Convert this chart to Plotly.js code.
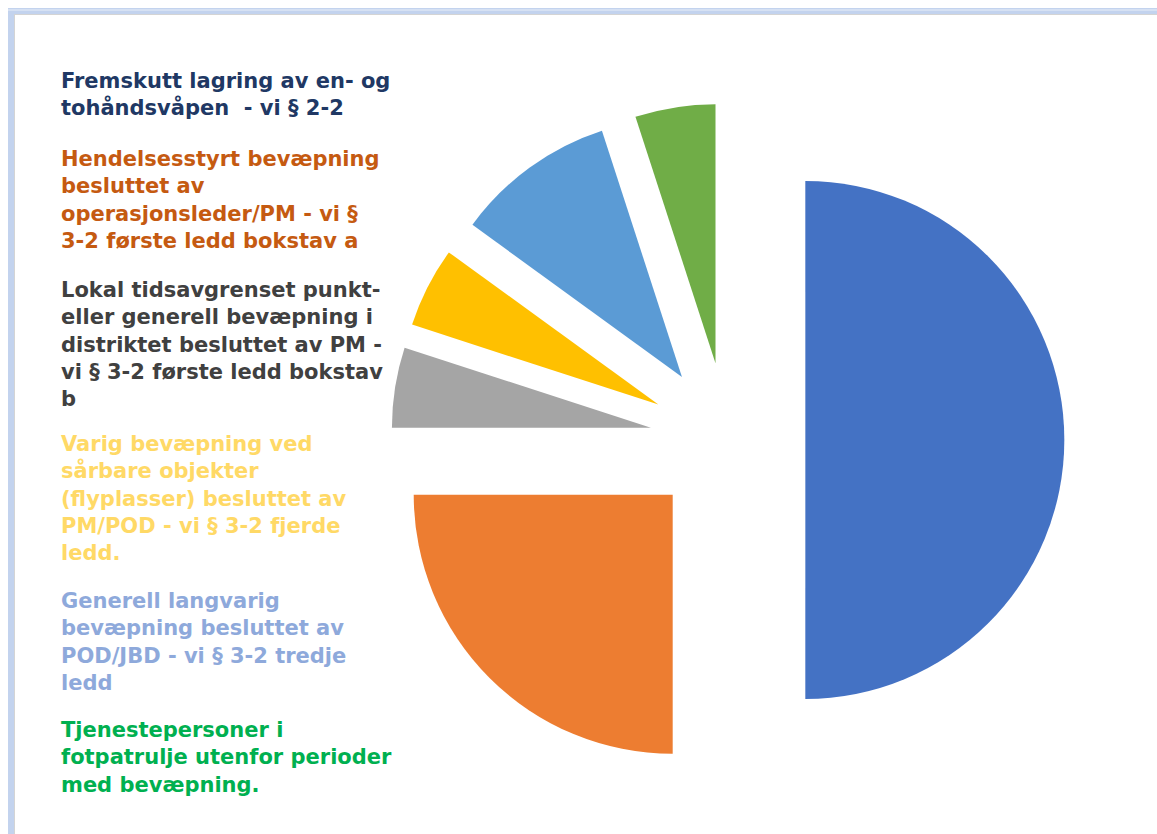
<!DOCTYPE html>
<html>
<head>
<meta charset="utf-8">
<script src="https://cdn.plot.ly/plotly-3.0.1.min.js"></script>
<style>
  html, body { margin: 0; padding: 0; background: #ffffff; }
  #chart { width: 1157px; height: 834px; }
</style>
</head>
<body>
<div id="chart"></div>
<script>
// ---- Data ----
const legendLines = [
  "Fremskutt lagring av en- og<br>tohåndsvåpen  - vi § 2-2",
  "Hendelsesstyrt bevæpning<br>besluttet av<br>operasjonsleder/PM - vi §<br>3-2 første ledd bokstav a",
  "Lokal tidsavgrenset punkt-<br>eller generell bevæpning i<br>distriktet besluttet av PM -<br>vi § 3-2 første ledd bokstav<br>b",
  "Varig bevæpning ved<br>sårbare objekter<br>(flyplasser) besluttet av<br>PM/POD - vi § 3-2 fjerde<br>ledd.",
  "Generell langvarig<br>bevæpning besluttet av<br>POD/JBD - vi § 3-2 tredje<br>ledd",
  "Tjenestepersoner i<br>fotpatrulje utenfor perioder<br>med bevæpning."
];
const labels = legendLines.map(s => s.replace(/<br>/g, " ").replace(/\s+/g, " "));
const values = [50, 25, 5, 5, 10, 5];

// ---- Styles ----
const sliceColors = ["#4472C4", "#ED7D31", "#A5A5A5", "#FFC000", "#5B9BD5", "#70AD47"];
const textColors  = ["#203864", "#C55A11", "#404040", "#FFD966", "#8EA9DB", "#00B050"];
const blockTopPx  = [82, 160, 291, 445, 602, 731];

const W = 1157, H = 834;
const fontSize = 21;

const annotations = legendLines.map((t, i) => ({
  xref: "paper", yref: "paper",
  x: 59 / W, y: 1 - (blockTopPx[i] - 15) / H,
  xanchor: "left", yanchor: "top", align: "left",
  showarrow: false,
  text: "<b>" + t + "</b>",
  font: { family: "DejaVu Sans, Verdana, sans-serif", size: fontSize, color: textColors[i] }
}));

const shapes = [
  // frame: blue band top and left
  { type: "rect", xref: "paper", yref: "paper", x0: 8 / W, x1: 1.01, y0: 1 - 14 / H, y1: 1 - 8 / H,
    fillcolor: "#C3D3EE", line: { width: 0 }, layer: "below" },
  { type: "rect", xref: "paper", yref: "paper", x0: 8 / W, x1: 14 / W, y0: -0.01, y1: 1 - 8 / H,
    fillcolor: "#C3D3EE", line: { width: 0 }, layer: "below" },
  { type: "rect", xref: "paper", yref: "paper", x0: 8 / W, x1: 1.01, y0: 1 - 11 / H, y1: 1 - 9 / H,
    fillcolor: "#D6E1F3", line: { width: 0 }, layer: "below" },
  { type: "line", xref: "paper", yref: "paper", x0: 14 / W, x1: 1.01, y0: 1 - 14.5 / H, y1: 1 - 14.5 / H,
    line: { color: "#D4D4D4", width: 1 }, layer: "below" },
  { type: "line", xref: "paper", yref: "paper", x0: 14.5 / W, x1: 14.5 / W, y0: -0.01, y1: 1 - 14.5 / H,
    line: { color: "#D4D4D4", width: 1 }, layer: "below" }
];

const trace = {
  type: "pie",
  labels: labels,
  values: values,
  sort: false,
  direction: "clockwise",
  rotation: 0,
  pull: values.map(() => 0.3),
  textinfo: "none",
  hoverinfo: "label+percent",
  marker: { colors: sliceColors, line: { width: 0 } },
  domain: { x: [0.3379, 0.9199], y: [0.0688, 0.8763] },
  showlegend: false
};

const layout = {
  width: W, height: H,
  margin: { l: 0, r: 0, t: 0, b: 0 },
  paper_bgcolor: "#ffffff",
  showlegend: false,
  annotations: annotations,
  shapes: shapes
};

Plotly.newPlot("chart", [trace], layout, { displayModeBar: false, staticPlot: true });
</script>
</body>
</html>
